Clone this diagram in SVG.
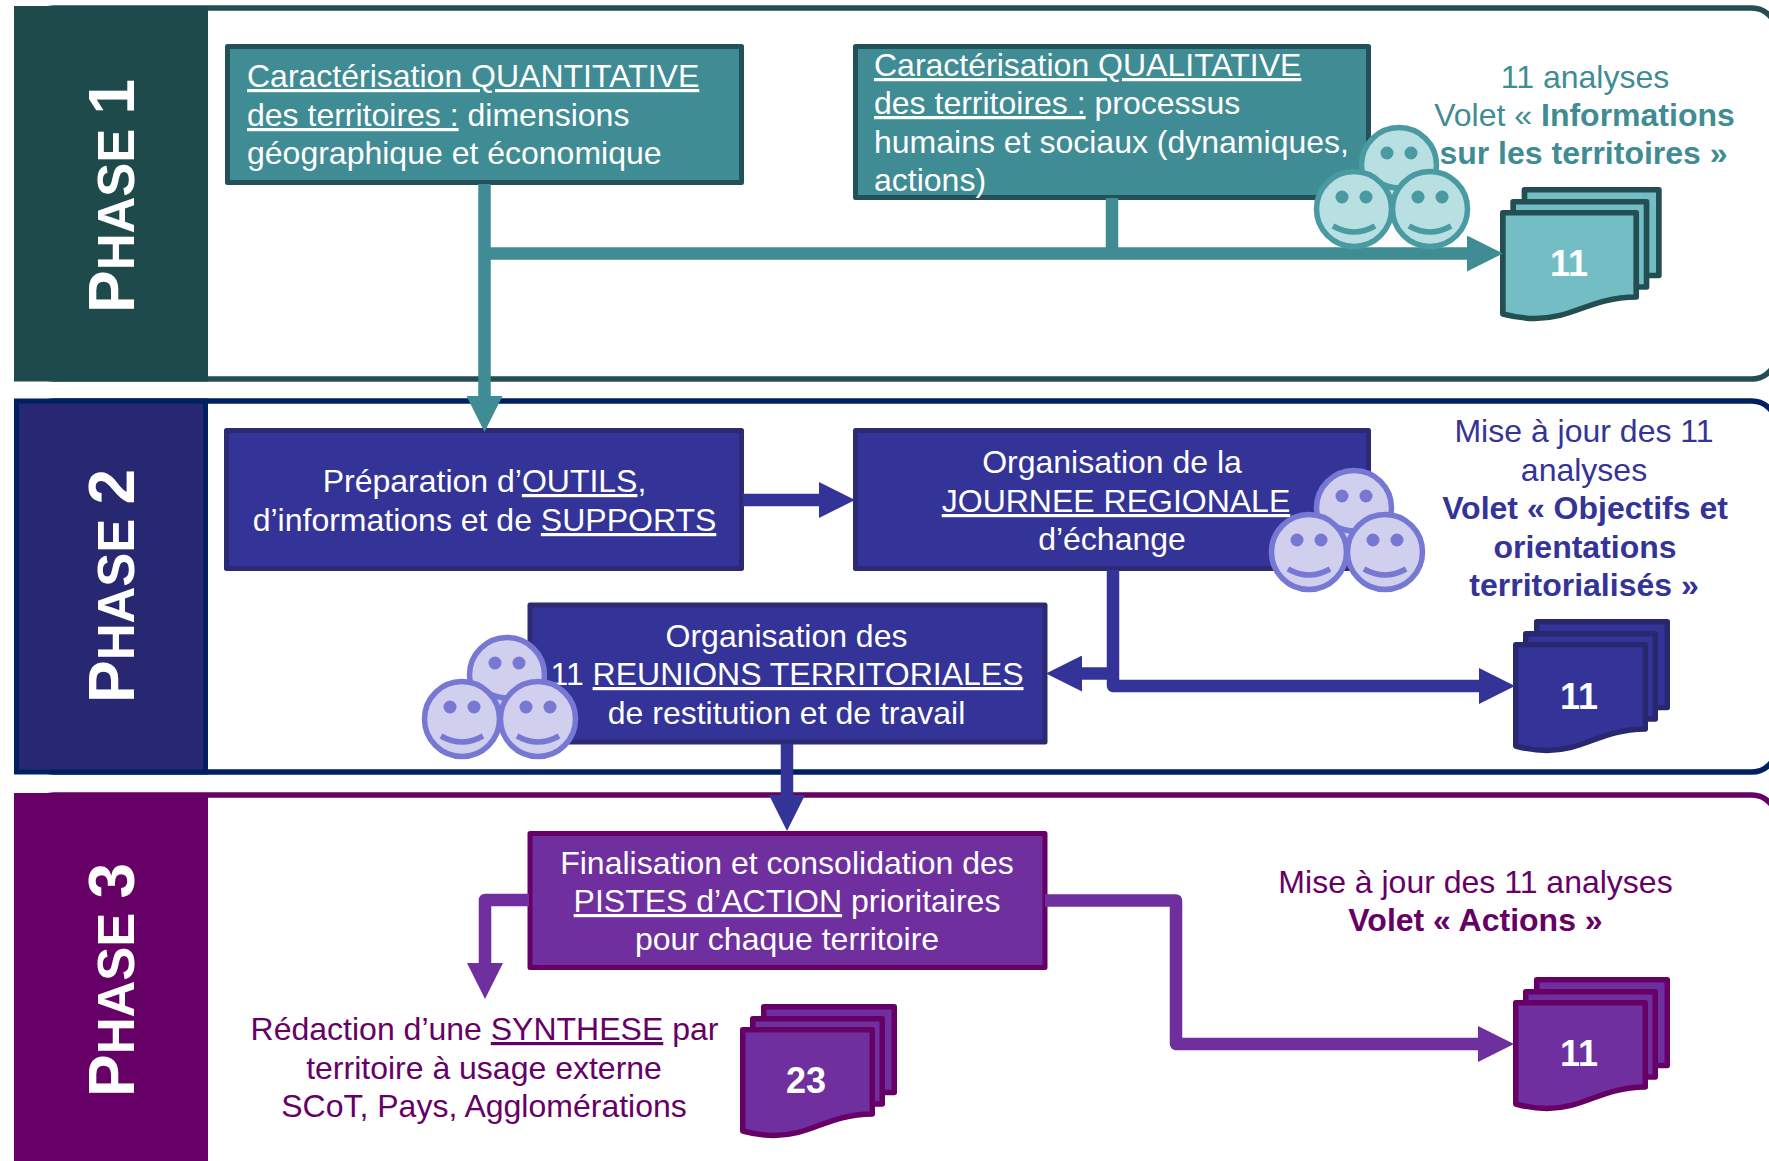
<svg xmlns="http://www.w3.org/2000/svg" xmlns:xlink="http://www.w3.org/1999/xlink" width="1769" height="1161" viewBox="0 0 1769 1161">
<style>
text{font-family:"Liberation Sans",Arial,sans-serif;font-size:32px}
.m{text-anchor:middle}
.w{fill:#fff}
.b{font-weight:700}
.u{text-decoration:underline}
.ph{font-weight:700;font-size:51px;fill:#fff}
.ph .c{font-size:64px}
.num{font-weight:700;font-size:36px;fill:#fff;text-anchor:middle}
.frame{fill:#fff;stroke-width:5.5}
.box{stroke-width:5;stroke-linejoin:round}
.doc{stroke-width:5.5;stroke-linejoin:round}
.con{fill:none;stroke-width:12.500;stroke-linejoin:round}
.sm{stroke-width:5.500}
.eye{fill:var(--e);stroke:none}
.teal{fill:#3f8c94;stroke:#24505a}
.navy{fill:#343498;stroke:#2b2a72}
.purp{fill:#6f2f9f;stroke:#660066}
.dt{fill:#72bec4;stroke:#234e52}
.dn{fill:#343498;stroke:#282870}
.dp{fill:#6f2f9f;stroke:#660066}
.st{fill:#b8dfe2;stroke:#4a9aa2;--e:#4a9aa2}
.sn{fill:#d0d0ee;stroke:#7777d4;--e:#7777d4}
.tt{fill:#3f8c94}
.tb{fill:#343498}
.tp{fill:#660066}
</style>
<defs>
<marker id="hT" markerUnits="userSpaceOnUse" markerWidth="36" markerHeight="36" viewBox="0 0 36 36" refX="0" refY="18" orient="auto"><path d="M0 0L36 18L0 36Z" fill="#3f8c94"/></marker>
<marker id="hN" markerUnits="userSpaceOnUse" markerWidth="36" markerHeight="36" viewBox="0 0 36 36" refX="0" refY="18" orient="auto"><path d="M0 0L36 18L0 36Z" fill="#343498"/></marker>
<marker id="hP" markerUnits="userSpaceOnUse" markerWidth="36" markerHeight="36" viewBox="0 0 36 36" refX="0" refY="18" orient="auto"><path d="M0 0L36 18L0 36Z" fill="#6f2f9f"/></marker>
<g id="doc">
<rect x="23.750" y="-20.250" width="130.500" height="85.750"/>
<rect x="12.750" y="-8.250" width="129.500" height="85.250"/>
<path d="M2.750 2.750H132.250V87C87 87.500 72 108.500 34 108.500C22 108.500 12 106.500 2.750 104Z"/>
</g>
<g id="face">
<circle r="37.500"/>
<circle cx="-12" cy="-12" r="6.500" class="eye"/>
<circle cx="12" cy="-12" r="6.500" class="eye"/>
<path d="M-21 17Q0 29 21 17" fill="none"/>
</g>
<g id="faces">
<use xlink:href="#face" href="#face"/>
<use xlink:href="#face" href="#face" transform="translate(-45 44)"/>
<use xlink:href="#face" href="#face" transform="translate(31 44)"/>
</g>
</defs>

<g id="phase1">
<rect class="frame" x="30" y="8" width="1746" height="371" rx="24" stroke="#234e52"/>
<path d="M14 6H208V381.500H14Z" fill="#1f4a4b"/>
<text class="ph" transform="translate(134 313) rotate(-90)"><tspan class="c">P</tspan>HASE <tspan class="c">1</tspan></text>
</g>
<g id="phase2">
<rect class="frame" x="30" y="401" width="1746" height="371" rx="24" stroke="#00205f"/>
<path d="M16.500 401H205.500V772H16.500Z" fill="#272772" stroke="#00205f" stroke-width="5"/>
<text class="ph" transform="translate(134 703) rotate(-90)"><tspan class="c">P</tspan>HASE <tspan class="c">2</tspan></text>
</g>
<g id="phase3">
<rect class="frame" x="30" y="795" width="1746" height="400" rx="24" stroke="#660066"/>
<path d="M14 793H208V1161H14Z" fill="#660066"/>
<text class="ph" transform="translate(134 1097) rotate(-90)"><tspan class="c">P</tspan>HASE <tspan class="c">3</tspan></text>
</g>

<g id="box-quantitative">
<rect class="box teal" x="227.500" y="46.500" width="514" height="136"/>
<text class="w" x="247" y="87"><tspan class="u">Caractérisation QUANTITATIVE</tspan></text>
<text class="w" x="247" y="126"><tspan class="u">des territoires :</tspan> dimensions</text>
<text class="w" x="247" y="164">géographique et économique</text>
</g>
<g id="box-qualitative">
<rect class="box teal" x="855.500" y="46.500" width="513" height="151"/>
<text class="w" x="874" y="76"><tspan class="u">Caractérisation QUALITATIVE</tspan></text>
<text class="w" x="874" y="114"><tspan class="u">des territoires :</tspan> processus</text>
<text class="w" x="874" y="153">humains et sociaux (dynamiques,</text>
<text class="w" x="874" y="191">actions)</text>
</g>
<g id="label-informations">
<text class="m tt" x="1585" y="88">11 analyses</text>
<text class="m tt" x="1584.500" y="126">Volet « <tspan class="b">Informations</tspan></text>
<text class="m tt b" x="1583.500" y="164">sur les territoires »</text>
</g>
<g id="doc-phase1">
<use xlink:href="#doc" href="#doc" class="doc dt" transform="translate(1500 210) scale(1.03 1)"/>
<text class="num" x="1569" y="276">11</text>
</g>

<g id="box-outils">
<rect class="box navy" x="226.500" y="430.500" width="515" height="138"/>
<text class="m w" x="484.500" y="492">Préparation d’<tspan class="u">OUTILS</tspan>,</text>
<text class="m w" x="484.500" y="531">d’informations et de <tspan class="u">SUPPORTS</tspan></text>
</g>
<g id="box-journee">
<rect class="box navy" x="855.500" y="430.500" width="513" height="138"/>
<text class="m w" x="1112" y="473">Organisation de la</text>
<text class="m w" x="1116" y="512"><tspan class="u">JOURNEE REGIONALE</tspan></text>
<text class="m w" x="1112" y="550">d’échange</text>
</g>
<g id="box-reunions">
<rect class="box navy" x="530" y="605" width="515" height="137"/>
<text class="m w" x="786.500" y="647">Organisation des</text>
<text class="m w" x="787" y="685">11 <tspan class="u">REUNIONS TERRITORIALES</tspan></text>
<text class="m w" x="786.500" y="724">de restitution et de travail</text>
</g>
<g id="label-objectifs">
<text class="m tb" x="1584" y="442">Mise à jour des 11</text>
<text class="m tb" x="1584" y="481">analyses</text>
<text class="m tb b" x="1585" y="519">Volet « Objectifs et</text>
<text class="m tb b" x="1585" y="558">orientations</text>
<text class="m tb b" x="1584" y="596">territorialisés »</text>
</g>
<g id="doc-phase2">
<use xlink:href="#doc" href="#doc" class="doc dn" transform="translate(1513 642)"/>
<text class="num" x="1579" y="709">11</text>
</g>

<g id="box-pistes">
<rect class="box purp" x="530" y="833.500" width="515" height="134"/>
<text class="m w" x="787" y="874">Finalisation et consolidation des</text>
<text class="m w" x="787" y="912"><tspan class="u">PISTES d’ACTION</tspan> prioritaires</text>
<text class="m w" x="787" y="950">pour chaque territoire</text>
</g>
<g id="label-actions">
<text class="m tp" x="1475.500" y="893">Mise à jour des 11 analyses</text>
<text class="m tp b" x="1475.500" y="931">Volet « Actions »</text>
</g>
<g id="label-synthese">
<text class="m tp" x="484.500" y="1040">Rédaction d’une <tspan class="u">SYNTHESE</tspan> par</text>
<text class="m tp" x="484" y="1079">territoire à usage externe</text>
<text class="m tp" x="484" y="1117">SCoT, Pays, Agglomérations</text>
</g>
<g id="doc-synthese">
<use xlink:href="#doc" href="#doc" class="doc dp" transform="translate(740 1027)"/>
<text class="num" x="806" y="1093">23</text>
</g>
<g id="doc-phase3">
<use xlink:href="#doc" href="#doc" class="doc dp" transform="translate(1513 1000)"/>
<text class="num" x="1579" y="1066">11</text>
</g>

<g id="connectors">
<path class="con" stroke="#3f8c94" d="M484.500 184V396" marker-end="url(#hT)"/>
<path class="con" stroke="#3f8c94" d="M484.500 253.500H1467" marker-end="url(#hT)"/>
<path class="con" stroke="#3f8c94" d="M1112 198V253"/>
<path class="con" stroke="#343498" d="M743 500H819" marker-end="url(#hN)"/>
<path class="con" stroke="#343498" d="M1113 570V686H1479" marker-end="url(#hN)"/>
<path class="con" stroke="#343498" d="M1108 673.500H1082" marker-end="url(#hN)"/>
<path class="con" stroke="#343498" d="M787 744V795" marker-end="url(#hN)"/>
<path class="con" stroke="#6f2f9f" d="M1045 900.500H1176V1044H1478" marker-end="url(#hP)"/>
<path class="con" stroke="#6f2f9f" d="M529 900H485V963" marker-end="url(#hP)"/>
</g>

<g id="faces-qualitative" class="sm st"><use xlink:href="#faces" href="#faces" transform="translate(1399 165)"/></g>
<g id="faces-journee" class="sm sn"><use xlink:href="#faces" href="#faces" transform="translate(1354 508)"/></g>
<g id="faces-reunions" class="sm sn"><use xlink:href="#faces" href="#faces" transform="translate(507 675)"/></g>
</svg>
